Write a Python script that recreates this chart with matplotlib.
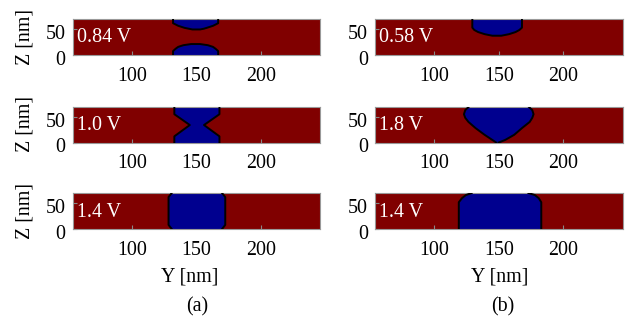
import numpy as np
import matplotlib.pyplot as plt
import matplotlib.transforms as mtransforms

plt.rcParams['font.family'] = ['Liberation Serif', 'DejaVu Serif']
plt.rcParams['font.size'] = 14.4

# lateral (Y) and vertical (Z) extent of the simulated cell, nm
y_range = (54, 246)
z_range = (0, 70)
y_ticks = [100, 150, 200]
z_ticks = [0, 50]

# filament outlines: z levels with left / right edge of the conductive region (nm)
a1_top_z = [70, 61, 56, 52, 50.5, 49]
a1_top_left = [132, 132, 136, 141, 144, 147]
a1_top_right = [167, 167, 163, 158, 156, 153]
a1_bot_z = [0, 7.5, 12, 15.6, 18.8, 21]
a1_bot_left = [132, 132, 134, 136, 140, 146]
a1_bot_right = [167, 167, 165, 163, 159, 153]

a2_z = [0, 12, 34, 55, 70]
a2_left = [133, 133, 145, 133, 133]
a2_right = [168, 168, 156, 168, 168]

a3_z = [0, 8, 62, 70]
a3_left = [131, 128.5, 128.5, 131]
a3_right = [170, 172.5, 172.5, 170]

b1_z = [70, 52.5, 48, 44, 40, 37]
b1_left = [129.5, 129.5, 131, 134, 139, 145]
b1_right = [168, 168, 166, 163, 158, 152]

b2_z = [70, 63, 55, 48, 40, 28, 15, 5, 0]
b2_left = [127, 124, 123, 124, 126.5, 132, 139, 145, 148]
b2_right = [173, 176, 177, 176, 174, 168, 162, 155, 150]

b3_z = [0, 52, 60, 66, 70]
b3_left = [119, 119, 121.5, 124.5, 129]
b3_right = [183, 183, 181, 178, 173]

voltages_a = ['0.84 V', '1.0 V', '1.4 V']
voltages_b = ['0.58 V', '1.8 V', '1.4 V']

panels_a = [
    [(a1_top_z, a1_top_left, a1_top_right), (a1_bot_z, a1_bot_left, a1_bot_right)],
    [(a2_z, a2_left, a2_right)],
    [(a3_z, a3_left, a3_right)],
]
panels_b = [
    [(b1_z, b1_left, b1_right)],
    [(b2_z, b2_left, b2_right)],
    [(b3_z, b3_left, b3_right)],
]

red = '#800000'
blue = '#00008f'

W, H = 632, 325
fig = plt.figure(figsize=(W / 100, H / 100), dpi=100)
# z tick labels sit a little below their ticks
down = mtransforms.ScaledTranslation(0, -3 / 100, fig.dpi_scale_trans)


def px_axes(x0, y0, x1, y1):
    return fig.add_axes([x0 / W, 1 - y1 / H, (x1 - x0) / W, (y1 - y0) / H])


def draw_panel(ax, blobs, label):
    ax.set_facecolor(red)
    for z, left, right in blobs:
        z = np.array(z, float)
        left = np.array(left, float)
        right = np.array(right, float)
        ax.fill_betweenx(z, left, right, color=blue, lw=0, zorder=2)
        if z[-1] in z_range:
            ax.plot(left, z, color='k', lw=1.4, zorder=3)
            ax.plot(right, z, color='k', lw=1.4, zorder=3)
        else:
            ax.plot(np.r_[left, right[::-1]], np.r_[z, z[::-1]], color='k', lw=1.4, zorder=3)
    ax.set_xlim(y_range)
    ax.set_ylim(z_range)
    ax.set_xticks(y_ticks)
    ax.set_yticks(z_ticks)
    ax.tick_params(direction='in', length=3, color='#888888', pad=5)
    ax.tick_params(axis='x', pad=8.5)
    for lab in ax.get_yticklabels():
        lab.set_transform(lab.get_transform() + down)
    for s in ax.spines.values():
        s.set_color('#999999')
        s.set_linewidth(0.8)
    ax.text(0.018, 0.47, label, color='white', transform=ax.transAxes,
            ha='left', va='center', zorder=4)


rows = [(18.5, 55), (106.5, 142.5), (193, 229)]
for (top, bot), blobs, v in zip(rows, panels_a, voltages_a):
    ax = px_axes(72.5, top, 320, bot)
    draw_panel(ax, blobs, v)
    fig.text(25 / W, 1 - (top + bot) / 2 / H, 'Z [nm]', rotation=90,
             ha='center', va='center')

for (top, bot), blobs, v in zip(rows, panels_b, voltages_b):
    ax = px_axes(375, top, 622.5, bot)
    draw_panel(ax, blobs, v)

fig.text(190 / W, 1 - 277 / H, 'Y [nm]', ha='center', va='center')
fig.text(500 / W, 1 - 277 / H, 'Y [nm]', ha='center', va='center')
fig.text(197 / W, 1 - 307 / H, '(a)', ha='center', va='center')
fig.text(503 / W, 1 - 307 / H, '(b)', ha='center', va='center')

fig.savefig('out.png', dpi=100)
